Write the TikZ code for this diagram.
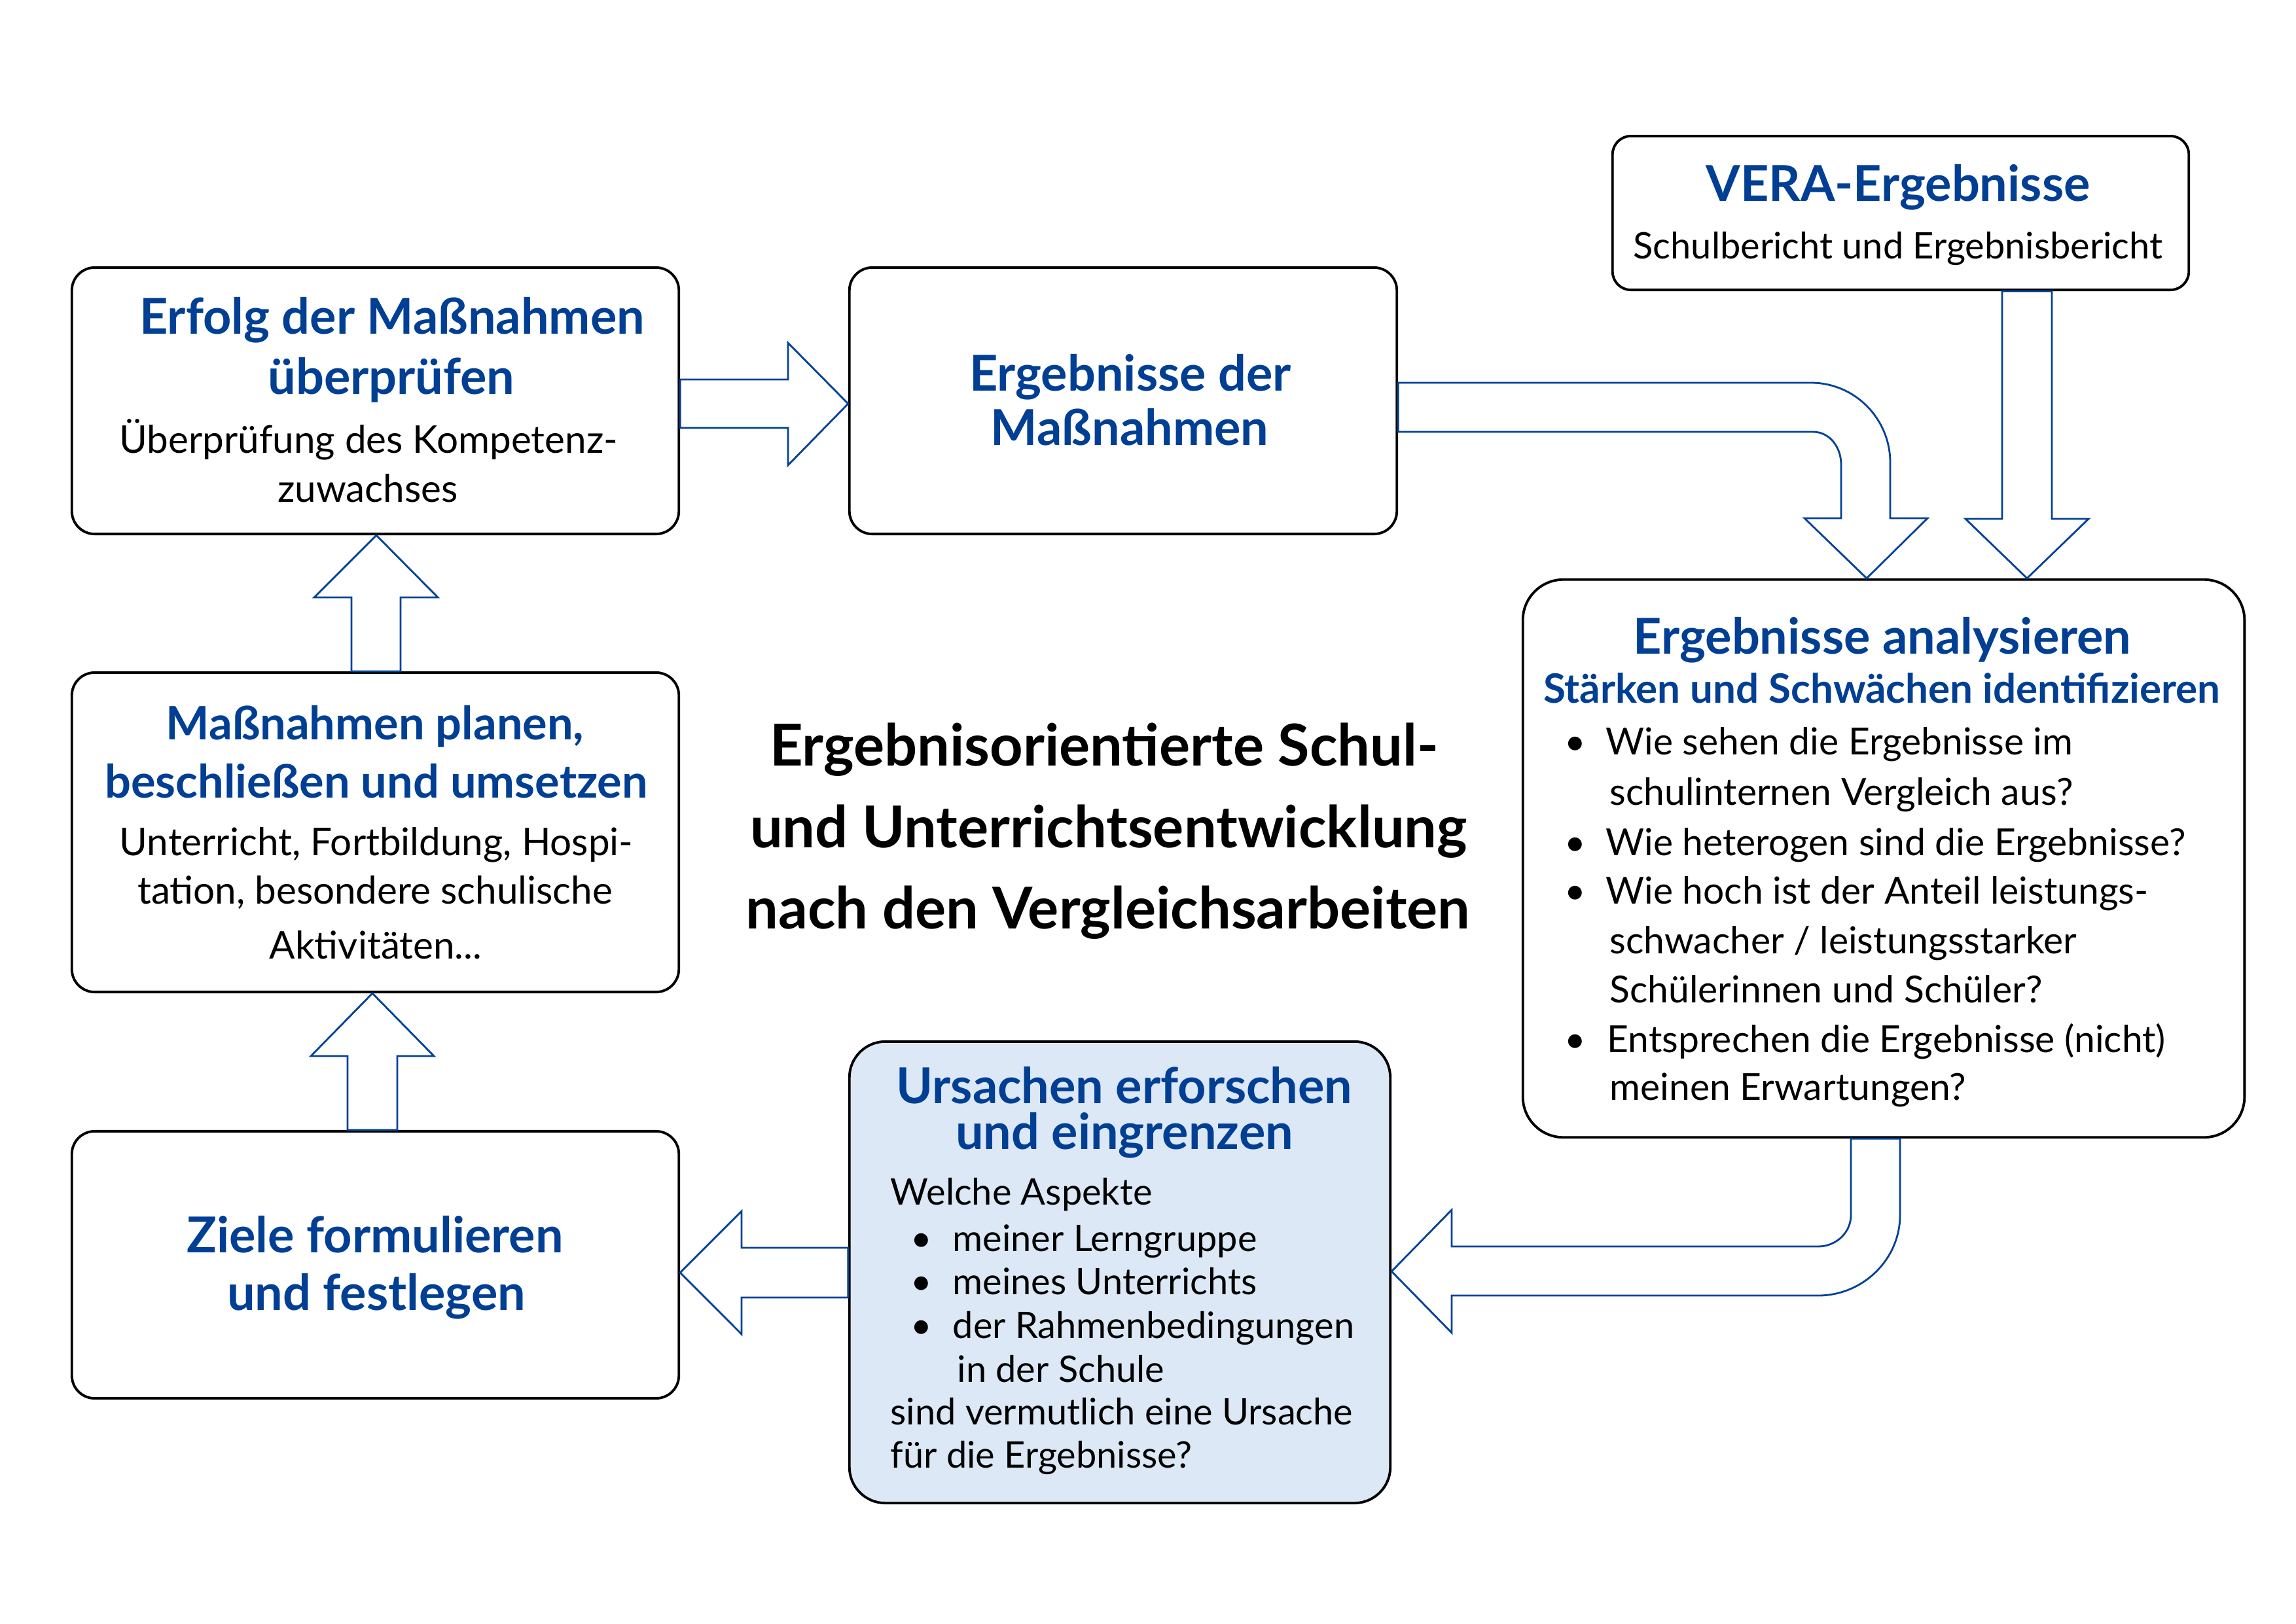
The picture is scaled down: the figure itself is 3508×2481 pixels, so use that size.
\documentclass[tikz,border=0pt]{standalone}
\usepackage{fontspec}
\setmainfont{Lato}
\usetikzlibrary{calc}
\definecolor{hblue}{RGB}{0,63,148}
\definecolor{ablue}{RGB}{0,66,152}
\definecolor{ufill}{RGB}{220,232,245}
\tikzset{
  box/.style={draw=black, line width=1.1pt, rounded corners=0.35cm, inner sep=0pt, fill=white},
  barrow/.style={draw=ablue, line width=0.8pt, fill=white, line join=miter},
  head/.style={inner sep=0pt, anchor=base, text=hblue, font=\fontsize{21.5}{26}\selectfont\bfseries},
  headm/.style={head, font=\fontsize{20}{24}\selectfont\bfseries},
  sub/.style={head, font=\fontsize{17.6}{21}\selectfont\bfseries},
  body/.style={inner sep=0pt, anchor=base, font=\fontsize{16.2}{19}\selectfont},
  bodyb/.style={body, font=\fontsize{16.6}{20}\selectfont},
  bodyv/.style={body, font=\fontsize{15.9}{19}\selectfont},
  bodyl/.style={body, anchor=base west},
  bodyu/.style={bodyl, font=\fontsize{15.9}{19}\selectfont},
  ttl/.style={inner sep=0pt, anchor=base, font=\fontsize{25.1}{30}\selectfont\bfseries},
  bul/.style={inner sep=0pt, anchor=base, font=\fontsize{16}{19}\selectfont},
}
\begin{document}
\begin{tikzpicture}[x=0.01cm, y=-0.01cm]
\useasboundingbox (0,0) rectangle (3508,2481);

% boxes
\node[box, minimum width=9.27cm, minimum height=4.07cm] (b1) at (573.5,612.5) {};
\node[box, minimum width=8.36cm, minimum height=4.07cm] (b2) at (1716,612.5) {};
\node[box, rounded corners=0.28cm, minimum width=8.80cm, minimum height=2.35cm] (vera) at (2904,325.5) {};
\node[box, rounded corners=0.62cm, minimum width=11.02cm, minimum height=8.52cm] (ana) at (2878,1312) {};
\node[box, minimum width=9.27cm, minimum height=4.88cm] (mp) at (573.5,1272) {};
\node[box, minimum width=9.27cm, minimum height=4.08cm] (zf) at (573.5,1933) {};
\node[box, fill=ufill, rounded corners=0.55cm, minimum width=8.26cm, minimum height=7.05cm] (urs) at (1711,1944.5) {};

% block arrows
\draw[barrow] (b1.east |- 0,580) -- (1204,580) -- (1204,524) -- (b2.west |- 0,617)
  -- (1204,711) -- (1204,654) -- (b1.east |- 0,654) -- cycle;
\draw[barrow] (b2.east |- 0,585) -- (2767,585) .. controls (2834,585) and (2888,640) .. (2888,707)
  -- (2888,792) -- (2945,792) -- (ana.north -| 2852,0) -- (2757,792) -- (2813,792)
  -- (2813,710) .. controls (2813,684) and (2796,660) .. (2770,660) -- (b2.east |- 0,660) -- cycle;
\draw[barrow] (vera.south -| 3059,0) -- (3059,793) -- (3003,793) -- (ana.north -| 3097,0)
  -- (3191,793) -- (3135,793) -- (vera.south -| 3135,0) -- cycle;
\draw[barrow] (ana.south -| 2828,0) -- (2828,1857) .. controls (2828,1884) and (2805,1905) .. (2778,1905)
  -- (2218,1905) -- (2218,1849) -- (urs.east |- 0,1943) -- (2218,2037) -- (2218,1980)
  -- (2778,1980) .. controls (2846,1980) and (2903,1925) .. (2903,1857) -- (ana.south -| 2903,0) -- cycle;
\draw[barrow] (urs.west |- 0,1907) -- (1133,1907) -- (1133,1851) -- (zf.east |- 0,1945)
  -- (1133,2039) -- (1133,1983) -- (urs.west |- 0,1983) -- cycle;
\draw[barrow] (zf.north -| 531,0) -- (531,1614) -- (475,1614) -- (mp.south -| 569,0)
  -- (663,1614) -- (607,1614) -- (zf.north -| 607,0) -- cycle;
\draw[barrow] (mp.north -| 537,0) -- (537,913) -- (480,913) -- (b1.south -| 575,0)
  -- (669,913) -- (612,913) -- (mp.north -| 612,0) -- cycle;

% VERA
\node[head] (v1) at (2900,307) {VERA-Ergebnisse};
\node[bodyv] (v2) at (2900,395) {Schulbericht und Ergebnisbericht};

% Erfolg
\node[head] (e1) at (599,510) {Erfolg der Maßnahmen};
\node[head] (e2) at (598,602) {überprüfen};
\node[bodyb] (e3) at (563,692) {Überprüfung des Kompetenz-};
\node[bodyb] (e4) at (562,767) {zuwachses};

% Ergebnisse der Massnahmen
\node[head] (g1) at (1727,597) {Ergebnisse der};
\node[head] (g2) at (1726,680) {Maßnahmen};

% Massnahmen planen
\node[headm] (m1) at (573,1130) {Maßnahmen planen,};
\node[headm] (m2) at (575,1219) {beschließen und umsetzen};
\node[bodyb] (m3) at (575,1307) {Unterricht, Fortbildung, Hospi-};
\node[bodyb] (m4) at (573,1381) {tation, besondere schulische};
\node[bodyb] (m5) at (574,1465) {Aktivitäten...};

% Ziele
\node[head] (z1) at (573,1914) {Ziele formulieren};
\node[head] (z2) at (575,2002) {und festlegen};

% Title
\node[ttl] (t1) at (1687,1170) {Ergebnisorientierte Schul-};
\node[ttl] (t2) at (1694,1295) {und Unterrichtsentwicklung};
\node[ttl] (t3) at (1693,1419) {nach den Vergleichsarbeiten};

% Analyse
\node[head] (a1) at (2876,999) {Ergebnisse analysieren};
\node[sub] (a2) at (2875,1074) {Stärken und Schwächen identifizieren};
\node[bul] (ab1) at (2407,1153) {•};
\node[bodyl] (a3) at (2453,1153) {Wie sehen die Ergebnisse im};
\node[bodyl] (a4) at (2459,1230) {schulinternen Vergleich aus?};
\node[bul] (ab2) at (2407,1307) {•};
\node[bodyl] (a5) at (2453,1307) {Wie heterogen sind die Ergebnisse?};
\node[bul] (ab3) at (2407,1381) {•};
\node[bodyl] (a6) at (2453,1381) {Wie hoch ist der Anteil leistungs-};
\node[bodyl] (a7) at (2459,1457) {schwacher / leistungsstarker};
\node[bodyl] (a8) at (2459,1532) {Schülerinnen und Schüler?};
\node[bul] (ab4) at (2407,1608) {•};
\node[bodyl] (a9) at (2455,1608) {Entsprechen die Ergebnisse (nicht)};
\node[bodyl] (a10) at (2459,1681) {meinen Erwartungen?};

% Ursachen
\node[head] (u1) at (1718,1686) {Ursachen erforschen};
\node[head] (u2) at (1718,1756) {und eingrenzen};
\node[bodyu] (u3) at (1360,1841) {Welche Aspekte};
\node[bul] (ub1) at (1408,1912) {•};
\node[bodyu] (u4) at (1455,1912) {meiner Lerngruppe};
\node[bul] (ub2) at (1408,1978) {•};
\node[bodyu] (u5) at (1455,1978) {meines Unterrichts};
\node[bul] (ub3) at (1408,2045) {•};
\node[bodyu] (u6) at (1455,2045) {der Rahmenbedingungen};
\node[bodyu] (u7) at (1462,2112) {in der Schule};
\node[bodyu] (u8) at (1360,2177) {sind vermutlich eine Ursache};
\node[bodyu] (u9) at (1360,2243) {für die Ergebnisse?};
\end{tikzpicture}
\end{document}
